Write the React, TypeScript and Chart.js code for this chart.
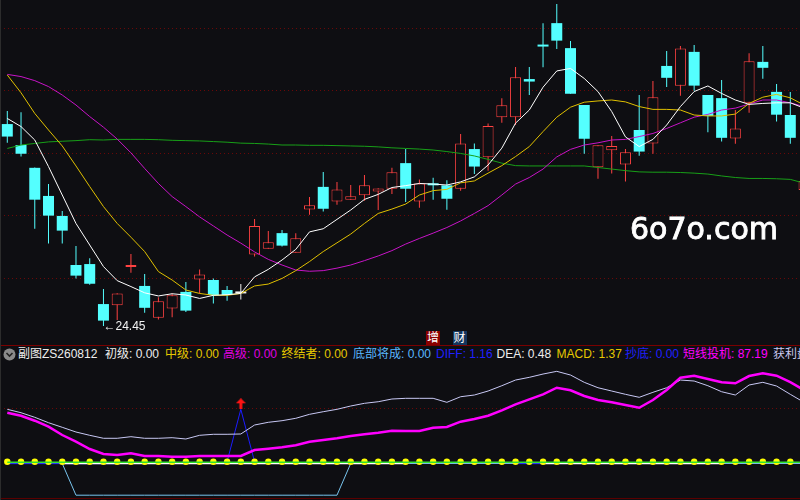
import React, { useEffect, useRef } from "react";
import { Chart, registerables } from "chart.js";

Chart.register(...registerables);

// ---------- data ----------
const OPEN = [30.91, 30.24, 29.51, 28.61, 27.97, 26.40, 26.43, 25.15, 25.11, 26.34,
  25.73, 24.71, 25.01, 25.54, 25.94, 25.92, 25.60, 25.49, 26.74, 26.92,
  27.42, 26.79, 28.18, 28.90, 28.43, 28.49, 28.63, 28.75, 28.84, 29.66,
  28.43, 29.01, 28.95, 28.84, 30.11, 29.85, 31.13, 31.13, 32.35, 33.45,
  34.14, 33.34, 31.52, 29.53, 30.07, 29.62, 30.72, 30.29, 32.77, 32.14,
  33.22, 31.84, 31.74, 30.45, 31.59, 32.90, 31.94, 31.20, 28.80];
const CLOSE = [30.51, 29.96, 28.49, 27.98, 27.50, 26.06, 25.80, 24.62, 25.49, 26.36,
  25.03, 25.24, 25.43, 24.94, 26.10, 25.44, 25.44, 25.49, 27.65, 27.13,
  27.02, 27.26, 28.31, 28.20, 28.82, 28.60, 28.95, 28.85, 29.37, 28.84,
  29.01, 28.95, 28.52, 30.29, 29.55, 30.85, 31.51, 32.41, 32.27, 33.39,
  33.58, 31.88, 30.44, 30.23, 30.21, 30.01, 30.03, 31.77, 32.39, 33.33,
  32.14, 31.17, 30.47, 30.77, 32.92, 32.71, 31.21, 30.47, 29.09];
const HIGH = [31.33, 31.29, 29.52, 28.99, 28.13, 27.01, 26.62, 25.63, 25.50, 26.75,
  26.11, 25.37, 25.49, 25.86, 26.26, 25.97, 25.73, 25.79, 27.87, 27.49,
  27.52, 27.42, 28.58, 29.38, 29.06, 28.96, 29.28, 28.86, 29.51, 30.11,
  29.14, 29.19, 29.11, 30.59, 30.29, 30.93, 31.74, 32.74, 32.74, 34.14,
  34.75, 33.57, 31.52, 30.23, 30.53, 30.11, 31.84, 32.29, 33.25, 33.41,
  33.44, 31.84, 32.32, 31.36, 33.18, 33.41, 32.19, 31.94, 29.20];
const LOW = [30.31, 29.87, 27.56, 27.09, 27.09, 25.97, 25.77, 24.45, 24.64, 26.15,
  24.87, 24.66, 24.73, 24.90, 25.49, 25.17, 25.26, 25.30, 26.67, 26.92,
  26.99, 26.79, 28.01, 28.11, 28.33, 28.49, 28.46, 28.16, 28.67, 28.42,
  28.23, 28.49, 28.17, 28.78, 29.31, 29.42, 30.95, 30.88, 31.84, 32.73,
  33.31, 31.88, 29.96, 29.16, 29.33, 29.07, 29.90, 29.96, 32.10, 31.82,
  31.98, 30.65, 30.35, 30.28, 31.27, 32.36, 30.99, 30.28, 28.70];

const MA5 = [31.09, 30.83, 30.40, 29.55, 28.64, 27.73, 27.04, 26.35, 25.90, 25.71,
  25.51, 25.41, 25.48, 25.44, 25.33, 25.43, 25.45, 25.49, 26.02, 26.26,
  26.56, 26.90, 27.46, 27.56, 27.86, 28.16, 28.50, 28.66, 28.88, 28.94,
  29.01, 28.99, 28.96, 29.06, 29.22, 29.60, 30.14, 30.94, 31.36, 32.09,
  32.61, 32.69, 32.37, 31.95, 31.31, 30.50, 30.19, 30.42, 30.88, 31.47,
  31.95, 32.13, 31.89, 31.68, 31.54, 31.57, 31.59, 31.59, 31.42];
const MA10 = [32.48, 31.91, 31.25, 30.72, 30.21, 29.57, 28.91, 28.27, 27.73, 27.29,
  26.83, 26.19, 25.92, 25.60, 25.49, 25.43, 25.43, 25.49, 25.73, 25.79,
  25.97, 26.22, 26.51, 26.83, 27.11, 27.39, 27.73, 28.05, 28.19, 28.35,
  28.64, 28.78, 28.82, 29.03, 29.09, 29.34, 29.58, 29.87, 30.19, 30.67,
  31.13, 31.45, 31.61, 31.65, 31.68, 31.62, 31.47, 31.38, 31.38, 31.36,
  31.20, 31.17, 31.17, 31.23, 31.57, 31.77, 31.86, 31.75, 31.52];
const MA20 = [32.50, 32.43, 32.30, 32.11, 31.84, 31.52, 31.15, 30.81, 30.43, 29.99,
  29.49, 29.01, 28.59, 28.27, 27.94, 27.65, 27.36, 27.10, 26.82, 26.58,
  26.40, 26.24, 26.20, 26.22, 26.30, 26.40, 26.54, 26.69, 26.86, 27.07,
  27.25, 27.42, 27.60, 27.81, 28.05, 28.30, 28.64, 28.99, 29.20, 29.47,
  29.86, 30.10, 30.24, 30.31, 30.40, 30.42, 30.51, 30.61, 30.77, 30.95,
  31.13, 31.22, 31.36, 31.42, 31.55, 31.68, 31.68, 31.59, 31.47];
const MA60 = [30.13, 30.24, 30.29, 30.34, 30.36, 30.38, 30.41, 30.40, 30.42, 30.42,
  30.42, 30.41, 30.39, 30.38, 30.37, 30.35, 30.33, 30.30, 30.29, 30.27,
  30.24, 30.24, 30.23, 30.23, 30.22, 30.21, 30.20, 30.18, 30.15, 30.13,
  30.11, 30.08, 30.03, 29.97, 29.89, 29.78, 29.66, 29.58, 29.57, 29.57,
  29.57, 29.57, 29.57, 29.52, 29.47, 29.42, 29.38, 29.37, 29.37, 29.36,
  29.34, 29.31, 29.25, 29.20, 29.17, 29.17, 29.16, 29.14, 29.02];
const PRICE_GRID = [26, 28, 30, 32, 34];

// sub chart series
const SUB_LAVENDER = [58.07, 54.43, 49.50, 43.71, 38.78, 33.75, 30.21, 27.00, 27.00, 28.71,
  27.00, 27.00, 27.64, 26.25, 30.21, 31.29, 31.29, 31.61, 41.25, 44.14,
  45.86, 48.43, 52.71, 55.50, 58.07, 61.61, 64.50, 66.21, 69.11, 69.86,
  69.86, 69.86, 65.57, 71.57, 73.39, 77.68, 83.36, 89.46, 92.35, 95.89,
  98.78, 94.82, 87.00, 81.21, 77.68, 74.14, 70.93, 76.28, 81.21, 89.46,
  88.39, 83.36, 76.93, 73.39, 84.11, 87.00, 83.04, 74.14, 65.57];
const SUB_SPEC = [54.43, 51.21, 45.86, 39.43, 30.53, 23.36, 15.54, 10.18, 9.11, 10.93,
  8.04, 8.04, 7.29, 7.29, 8.04, 8.04, 8.04, 8.04, 14.46, 15.86,
  17.36, 19.50, 23.36, 25.18, 27.00, 29.46, 31.29, 33.00, 35.14, 34.82,
  34.82, 38.36, 39.11, 44.79, 47.68, 51.21, 57.00, 63.43, 68.78, 74.14,
  81.21, 78.43, 72.32, 68.04, 65.57, 62.68, 59.78, 68.04, 78.75, 91.93,
  94.07, 90.54, 87.00, 85.93, 93.75, 96.64, 94.07, 87.19, 78.75];
const SUB_BOTTOM = [0, 0, 0, 0, 0, -34, -34, -34, -34, -34,
  -34, -34, -34, -34, -34, -34, -34, -34, -34, -34,
  -34, -34, -34, -34, -34, 0, 0, 0, 0, 0,
  0, 0, 0, 0, 0, 0, 0, 0, 0, 0,
  0, 0, 0, 0, 0, 0, 0, 0, 0, 0,
  0, 0, 0, 0, 0, 0, 0, 0, 0];
const SUB_BLUE = [-0.2, -0.2, -0.2, -0.2, -0.2, -0.2, -0.2, -0.2, -0.2, null,
  null, null, null, null, null, null, 1.9, 58.07, 1.9, null,
  null, null, null, null, null, null, null, null, null, null,
  null, null, null, null, null, null, null, -0.2, -0.2, -0.2,
  null, null, null, null, null, null, null, null, null, null,
  null, null, null, null, null, null, null, null, null];
const SUB_WHITE = [null, null, null, null, 0, 0, 0, 0, 0, 0,
  0, 0, 0, 0, 0, 0, 0, 0, 0, 0,
  0, 0, 0, 0, 0, 0, 0, 0, 0, 0,
  null, null, null, null, null, null, null, null, null, 0,
  0, 0, 0, 0, 0, 0, 0, 0, 0, 0,
  0, 0, 0, null, null, null, null, null, null];
const SUB_DOTS = [1.9, 1.9, 1.9, 1.9, 1.9, 1.9, 1.9, 1.9, 1.9, 1.9,
  1.9, 1.9, 1.9, 1.9, 1.9, 1.9, 1.9, 1.9, 1.9, 1.9,
  1.9, 1.9, 1.9, 1.9, 1.9, 1.9, 1.9, 1.9, 1.9, 1.9,
  1.9, 1.9, 1.9, 1.9, 1.9, 1.9, 1.9, 1.9, 1.9, 1.9,
  1.9, 1.9, 1.9, 1.9, 1.9, 1.9, 1.9, 1.9, 1.9, 1.9,
  1.9, 1.9, 1.9, 1.9, 1.9, 1.9, 1.9, 1.9, 1.9];
const SUB_GREEN = [1.3, 1.3, 1.3, 1.3, 1.3, 1.3, 1.3, 1.3, 1.3, 1.3,
  1.3, 1.3, 1.3, 1.3, 1.3, 1.3, 1.3, 1.3, 1.3, 1.3,
  1.3, 1.3, 1.3, 1.3, 1.3, 1.3, 1.3, 1.3, 1.3, 1.3,
  1.3, 1.3, 1.3, 1.3, 1.3, 1.3, 1.3, 1.3, 1.3, 1.3,
  1.3, 1.3, 1.3, 1.3, 1.3, 1.3, 1.3, 1.3, 1.3, 1.3,
  1.3, 1.3, 1.3, 1.3, 1.3, 1.3, 1.3, 1.3, 1.3];
const SUB_ARROW_INDEX = [17];
const SUB_ARROW_VALUE = [64];
const SUB_GRID = [60];

const HEADER_TITLE = "副图ZS260812";
const HEADER_NAMES = ["初级", "中级", "高级", "终结者", "底部将成", "DIFF", "DEA", "MACD", "抄底", "短线投机", "获利盘"];
const HEADER_VALUES = [0.0, 0.0, 0.0, 0.0, 0.0, 1.16, 0.48, 1.37, 0.0, 87.19, 0.0];

// ---------- styles ----------
const BG = "#0e0e12";
const UP = "#ff4242";
const DOWN = "#54ffff";
const DOJI = "#f0f0f0";
const X_MIN = -0.531;
const X_MAX = 57.706;
const HEADER_COLORS = ["#eeeeee", "#e6c800", "#e000e0", "#e6c800", "#5ab8ff", "#2020ff", "#eeeeee", "#e6c800", "#2020ff", "#ff00ff", "#c8c8f0"];
const HEADER_LEFTS = [105, 165, 223, 281.5, 353, 436, 496.5, 556.5, 625, 683, 773];

const candleColor = (i: number) => (CLOSE[i] > OPEN[i] ? UP : CLOSE[i] < OPEN[i] ? DOWN : DOJI);
const pts = (arr: (number | null)[]) => arr.map((y, x) => ({ x, y }));

const gridPlugin = (values: number[], color: string) => ({
  id: "dottedGrid",
  beforeDatasetsDraw(chart: any) {
    const { ctx, chartArea, scales } = chart;
    ctx.save();
    ctx.strokeStyle = color;
    ctx.lineWidth = 1;
    ctx.setLineDash([1, 3]);
    values.forEach((v) => {
      const y = Math.round(scales.y.getPixelForValue(v)) + 0.5;
      ctx.beginPath();
      ctx.moveTo(chartArea.left, y);
      ctx.lineTo(chartArea.right, y);
      ctx.stroke();
    });
    ctx.restore();
  },
});

const lowLabelPlugin = {
  id: "lowLabel",
  afterDatasetsDraw(chart: any) {
    const { ctx, scales } = chart;
    let mi = 0;
    LOW.forEach((v, i) => {
      if (v < LOW[mi]) mi = i;
    });
    const x = scales.x.getPixelForValue(mi);
    const y = scales.y.getPixelForValue(LOW[mi]);
    ctx.save();
    ctx.font = "12px 'Liberation Sans', 'DejaVu Sans', sans-serif";
    ctx.fillStyle = "#f2f2f2";
    ctx.textAlign = "left";
    ctx.textBaseline = "middle";
    ctx.fillText("\u2190" + LOW[mi].toFixed(2), x, y + 1);
    ctx.restore();
  },
};

const baseOptions = (yMin: number, yMax: number) => ({
  animation: false as const,
  responsive: false,
  events: [] as any[],
  layout: { padding: 0, autoPadding: false },
  plugins: { legend: { display: false }, tooltip: { enabled: false } },
  scales: {
    x: { type: "linear" as const, min: X_MIN, max: X_MAX, display: false, offset: false },
    y: { type: "linear" as const, min: yMin, max: yMax, display: false },
  },
});

function makeArrow(): HTMLCanvasElement {
  const c = document.createElement("canvas");
  c.width = 10;
  c.height = 11;
  const a = c.getContext("2d")!;
  a.fillStyle = "#ff1414";
  a.beginPath();
  a.moveTo(5, 0);
  a.lineTo(10, 5);
  a.lineTo(0, 5);
  a.closePath();
  a.fill();
  a.fillRect(3.5, 5, 3, 6);
  return c;
}

export default function App() {
  const mainRef = useRef<HTMLCanvasElement>(null);
  const subRef = useRef<HTMLCanvasElement>(null);

  useEffect(() => {
    const charts: Chart[] = [];
    const lineDs = (arr: (number | null)[], color: string, width: number, order: number) => ({
      type: "line" as const,
      data: pts(arr),
      borderColor: color,
      backgroundColor: color,
      borderWidth: width,
      pointRadius: 0,
      tension: 0,
      spanGaps: false,
      order,
    });

    if (mainRef.current) {
      charts.push(
        new Chart(mainRef.current, {
          type: "bar",
          data: {
            datasets: [
              {
                type: "bar",
                data: LOW.map((l, i) => ({ x: i, y: [l, HIGH[i]] })) as any,
                backgroundColor: LOW.map((_, i) => candleColor(i)),
                borderWidth: 0,
                grouped: false,
                barPercentage: 1,
                categoryPercentage: 1,
                maxBarThickness: 1,
                inflateAmount: 0,
                order: 10,
              } as any,
              {
                type: "bar",
                data: OPEN.map((o, i) => ({ x: i, y: [o, CLOSE[i]] })) as any,
                backgroundColor: OPEN.map((o, i) => (CLOSE[i] > o ? BG : candleColor(i))),
                borderColor: OPEN.map((_, i) => candleColor(i)),
                borderWidth: OPEN.map((o, i) => (CLOSE[i] > o ? 1 : 0)),
                borderSkipped: false,
                grouped: false,
                barPercentage: 1,
                categoryPercentage: 1,
                maxBarThickness: 11,
                minBarLength: 2,
                inflateAmount: 0,
                order: 9,
              } as any,
              lineDs(MA60, "#18a018", 1, 4),
              lineDs(MA20, "#c814c8", 1, 3),
              lineDs(MA10, "#e0c000", 1, 2),
              lineDs(MA5, "#ffffff", 1, 1),
            ],
          },
          options: baseOptions(23.84, 34.88) as any,
          plugins: [gridPlugin(PRICE_GRID, "#6a0808"), lowLabelPlugin],
        })
      );
    }

    if (subRef.current) {
      const arrow = makeArrow();
      charts.push(
        new Chart(subRef.current, {
          type: "line",
          data: {
            datasets: [
              lineDs(SUB_BOTTOM, "#78c4ee", 1, 9),
              lineDs(SUB_BLUE, "#1c1cff", 1, 8),
              lineDs(SUB_WHITE, "#ffffff", 1.5, 7),
              {
                type: "line",
                data: pts(SUB_DOTS),
                showLine: false,
                pointRadius: 3.2,
                pointStyle: "circle",
                pointBackgroundColor: "#ffff00",
                pointBorderWidth: 0,
                order: 6,
              } as any,
              lineDs(SUB_GREEN, "#30e030", 1.5, 5),
              lineDs(SUB_LAVENDER, "#c8c8f4", 1, 4),
              lineDs(SUB_SPEC, "#ff00ff", 2.5, 3),
              {
                type: "line",
                data: SUB_ARROW_INDEX.map((x, k) => ({ x, y: SUB_ARROW_VALUE[k] })),
                showLine: false,
                pointStyle: arrow,
                pointRadius: 5,
                order: 1,
              } as any,
            ],
          },
          options: baseOptions(-37, 104.5) as any,
          plugins: [gridPlugin(SUB_GRID, "#6a0808")],
        })
      );
    }
    return () => charts.forEach((c) => c.destroy());
  }, []);

  const font = "'Liberation Sans', 'Noto Sans CJK SC', sans-serif";

  return (
    <div
      style={{
        position: "fixed",
        left: 0,
        top: 0,
        width: 800,
        height: 500,
        background: BG,
        overflow: "hidden",
        fontFamily: font,
      }}
    >
      <canvas ref={mainRef} width={800} height={345} style={{ position: "absolute", left: 0, top: 0 }} />
      <div style={{ position: "absolute", left: 0, top: 345, width: 800, height: 1, background: "#7a0000" }} />
      <canvas ref={subRef} width={800} height={132} style={{ position: "absolute", left: 0, top: 366 }} />
      <div style={{ position: "absolute", left: 0, top: 498, width: 800, height: 1, background: "#5a0000" }} />
      <div style={{ position: "absolute", left: 0, top: 0, width: 1, height: 500, background: "#2c2c2c" }} />

      {/* header row */}
      <svg width={13} height={13} style={{ position: "absolute", left: 3, top: 348 }}>
        <circle cx={6.5} cy={6.5} r={6} fill="#8a8a8a" />
        <polyline points="3.5,5 6.5,8 9.5,5" fill="none" stroke="#222" strokeWidth={1.6} />
      </svg>
      <div
        style={{
          position: "absolute",
          left: 18,
          top: 347,
          height: 14,
          lineHeight: "14px",
          fontSize: 12,
          color: "#eeeeee",
          whiteSpace: "nowrap",
        }}
      >
        {HEADER_TITLE}
      </div>
      {HEADER_NAMES.map((n, i) => (
        <div
          key={n}
          style={{
            position: "absolute",
            left: HEADER_LEFTS[i],
            top: 347,
            height: 14,
            lineHeight: "14px",
            fontSize: 12,
            color: HEADER_COLORS[i],
            whiteSpace: "nowrap",
          }}
        >
          {n}: {HEADER_VALUES[i].toFixed(2)}
        </div>
      ))}

      {/* badges */}
      <div
        style={{
          position: "absolute",
          left: 426,
          top: 331,
          width: 14,
          height: 14,
          lineHeight: "14px",
          fontSize: 12,
          textAlign: "center",
          color: "#fff",
          background: "#8a0000",
        }}
      >
        增
      </div>
      <div
        style={{
          position: "absolute",
          left: 452.5,
          top: 331,
          width: 14,
          height: 14,
          lineHeight: "14px",
          fontSize: 12,
          textAlign: "center",
          color: "#fff",
          background: "#14365e",
        }}
      >
        财
      </div>

      {/* watermark */}
      <div
        style={{
          position: "absolute",
          left: 630,
          top: 214,
          fontFamily: "'DejaVu Sans', sans-serif",
          fontSize: 30,
          lineHeight: "30px",
          color: "#ffffff",
          whiteSpace: "nowrap",
          WebkitTextStroke: "0.9px #ffffff",
        }}
      >
        6o7o.com
      </div>
    </div>
  );
}
